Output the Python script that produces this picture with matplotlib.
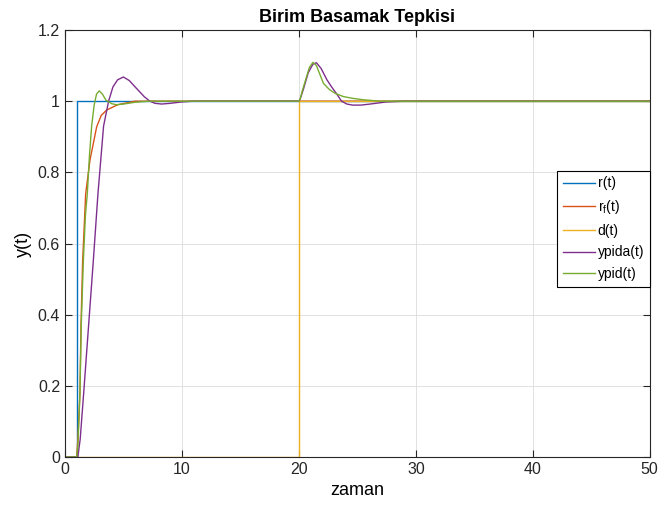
# Birim basamak tepkisi grafigi
import matplotlib.pyplot as plt

plt.rcParams['font.family'] = ['Liberation Sans', 'DejaVu Sans']
plt.rcParams['mathtext.fontset'] = 'custom'
plt.rcParams['mathtext.rm'] = 'Liberation Sans'

# r(t) ve d(t) basamaklari
t_r = [0, 1, 1, 50]
y_r = [0, 0, 1, 1]
t_d = [0, 20, 20, 50]
y_d = [0, 0, 1, 1]

# r_f(t) - filtrelenmis referans
t_rf = [0, 1, 1.1, 1.2, 1.28, 1.37, 1.51, 1.77, 2.14, 2.71, 3.1, 3.56, 4.5, 6, 50]
y_rf = [0, 0, 0.05, 0.12, 0.18, 0.37, 0.55, 0.74, 0.835, 0.928, 0.96, 0.975, 0.99, 1.0, 1.0]

# ypida(t)
t_pida = [0, 1, 1.1, 1.3, 1.6, 2.02, 2.42, 2.82, 3.3, 3.73, 4.1, 4.5, 4.99, 5.5, 6.0, 6.4,
          6.8, 7.26, 7.7, 8.26, 9.0, 10, 11, 20, 20.1, 20.4, 20.8, 21.2, 21.5, 21.9, 22.4,
          22.8, 23.2, 23.65, 24.1, 24.6, 25.3, 26.1, 27.5, 29, 50]
y_pida = [0, 0, 0.0, 0.05, 0.18, 0.37, 0.55, 0.74, 0.93, 1.0, 1.04, 1.06, 1.068, 1.058, 1.04, 1.026,
          1.012, 1.0, 0.994, 0.992, 0.994, 0.998, 1.0, 1.0, 1.005, 1.035, 1.08, 1.104, 1.108, 1.092, 1.06,
          1.04, 1.022, 1.0, 0.992, 0.989, 0.989, 0.992, 0.998, 1.0, 1.0]

# ypid(t)
t_pid = [0, 1, 1.1, 1.2, 1.28, 1.39, 1.57, 1.75, 1.91, 2.1, 2.28, 2.5, 2.7, 2.93, 3.2, 3.5,
         4.0, 4.4, 5, 6, 7.2, 20, 20.1, 20.3, 20.65, 20.9, 21.2, 21.5, 21.8, 22.1, 22.6,
         23.1, 23.8, 24.6, 25.5, 26.9, 50]
y_pid = [0, 0, 0.03, 0.11, 0.18, 0.37, 0.55, 0.68, 0.74, 0.85, 0.93, 0.99, 1.02, 1.029, 1.02, 1.003,
         0.993, 0.99, 0.992, 0.997, 1.0, 1.0, 1.005, 1.03, 1.068, 1.095, 1.109, 1.10, 1.075, 1.05, 1.033,
         1.022, 1.013, 1.008, 1.004, 1.0, 1.0]

colors = ['#0072BD', '#D95319', '#EDB120', '#7E2F8E', '#77AC30']

fig = plt.figure(figsize=(6.63, 5.13), dpi=100)
ax = fig.add_axes([0.098, 0.109, 0.882, 0.8325])

ax.plot(t_r, y_r, color=colors[0], lw=1, label='r(t)')
ax.plot(t_rf, y_rf, color=colors[1], lw=1, label=r'r$_\mathrm{f}$(t)')
ax.plot(t_d, y_d, color=colors[2], lw=1, label='d(t)')
ax.plot(t_pida, y_pida, color=colors[3], lw=1, label='ypida(t)')
ax.plot(t_pid, y_pid, color=colors[4], lw=1, label='ypid(t)')

ax.set_xlim(0, 50)
ax.set_ylim(0, 1.2)
ax.set_xticks([0, 10, 20, 30, 40, 50])
ax.set_yticks([0, 0.2, 0.4, 0.6, 0.8, 1, 1.2])
ax.set_yticklabels(['0', '0.2', '0.4', '0.6', '0.8', '1', '1.2'])
ax.grid(True, color='#dcdcdc', lw=0.6)
ax.tick_params(direction='in', labelsize=11.5, length=5, width=0.8, colors='#262626',
               top=True, right=True)
for s in ax.spines.values():
    s.set_color('#262626')
    s.set_linewidth(0.8)

ax.set_title('Birim Basamak Tepkisi', fontsize=13, fontweight='bold', pad=6)
ax.set_xlabel('zaman', fontsize=13)
ax.set_ylabel('y(t)', fontsize=13)

leg = ax.legend(loc='upper right', bbox_to_anchor=(1.0, 0.67), fontsize=10,
                fancybox=False, framealpha=1, edgecolor='black', handlelength=2.3,
                handletextpad=0.2, borderpad=0.4, labelspacing=0.55, borderaxespad=0)
leg.get_frame().set_linewidth(0.8)

plt.savefig('out.png', dpi=100)
